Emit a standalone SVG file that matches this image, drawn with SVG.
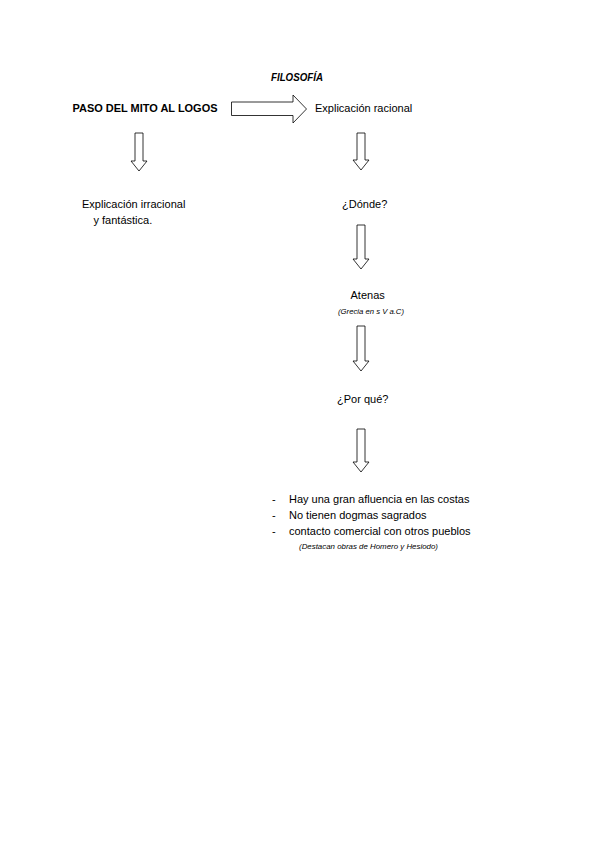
<svg xmlns="http://www.w3.org/2000/svg" width="600" height="848" viewBox="0 0 600 848">
<style>
text{font-family:"Liberation Sans",Arial,sans-serif;fill:#000}
.t{font-size:11px}
.b{font-size:11px;font-weight:bold}
.ti{font-size:10px;font-weight:bold;font-style:italic}
.s{font-size:7.5px;font-style:italic}
.arr{fill:#fff;stroke:#000;stroke-width:0.8;stroke-linejoin:miter}
</style>
<rect width="600" height="848" fill="#fff"/>
<g id="title"><text class="ti" x="271" y="81" textLength="52" lengthAdjust="spacingAndGlyphs">FILOSOFÍA</text></g>
<g id="paso"><text class="b" x="72.5" y="111.5" textLength="145" lengthAdjust="spacingAndGlyphs">PASO DEL MITO AL LOGOS</text></g>
<g id="racional"><text class="t" x="315" y="111.5">Explicación racional</text></g>
<g id="irracional"><text class="t" x="82" y="208">Explicación irracional</text><text class="t" x="93.5" y="224">y fantástica.</text></g>
<g id="donde"><text class="t" x="342" y="208">¿Dónde?</text></g>
<g id="atenas"><text class="t" x="350.5" y="298.5">Atenas</text><text class="s" x="338" y="313.5" textLength="66" lengthAdjust="spacingAndGlyphs">(Grecia en s V a.C)</text></g>
<g id="porque"><text class="t" x="337" y="403">¿Por qué?</text></g>
<g id="razones">
<text class="t" x="272" y="503">-</text><text class="t" x="289" y="503">Hay una gran afluencia en las costas</text>
<text class="t" x="272" y="519">-</text><text class="t" x="289" y="519">No tienen dogmas sagrados</text>
<text class="t" x="272" y="535">-</text><text class="t" x="289" y="535">contacto comercial con otros pueblos</text>
<text class="s" x="299" y="549" textLength="139" lengthAdjust="spacingAndGlyphs">(Destacan obras de Homero y Hesiodo)</text>
</g>
<g id="connectors">
<path class="arr" d="M231.5,102 H293 V95 L306.5,109 L293,123 V115.5 H231.5 Z"/>
<path class="arr" d="M135,133 H143 V161 H147 L139,171 L131,161 H135 Z"/>
<path class="arr" d="M357,133 H365 V160 H369 L361,170 L353,160 H357 Z"/>
<path class="arr" d="M357,225 H365 V259 H369 L361,269 L353,259 H357 Z"/>
<path class="arr" d="M357,326 H365 V361 H369 L361,371 L353,361 H357 Z"/>
<path class="arr" d="M357,429 H365 V462 H369 L361,472 L353,462 H357 Z"/>
</g>
</svg>
